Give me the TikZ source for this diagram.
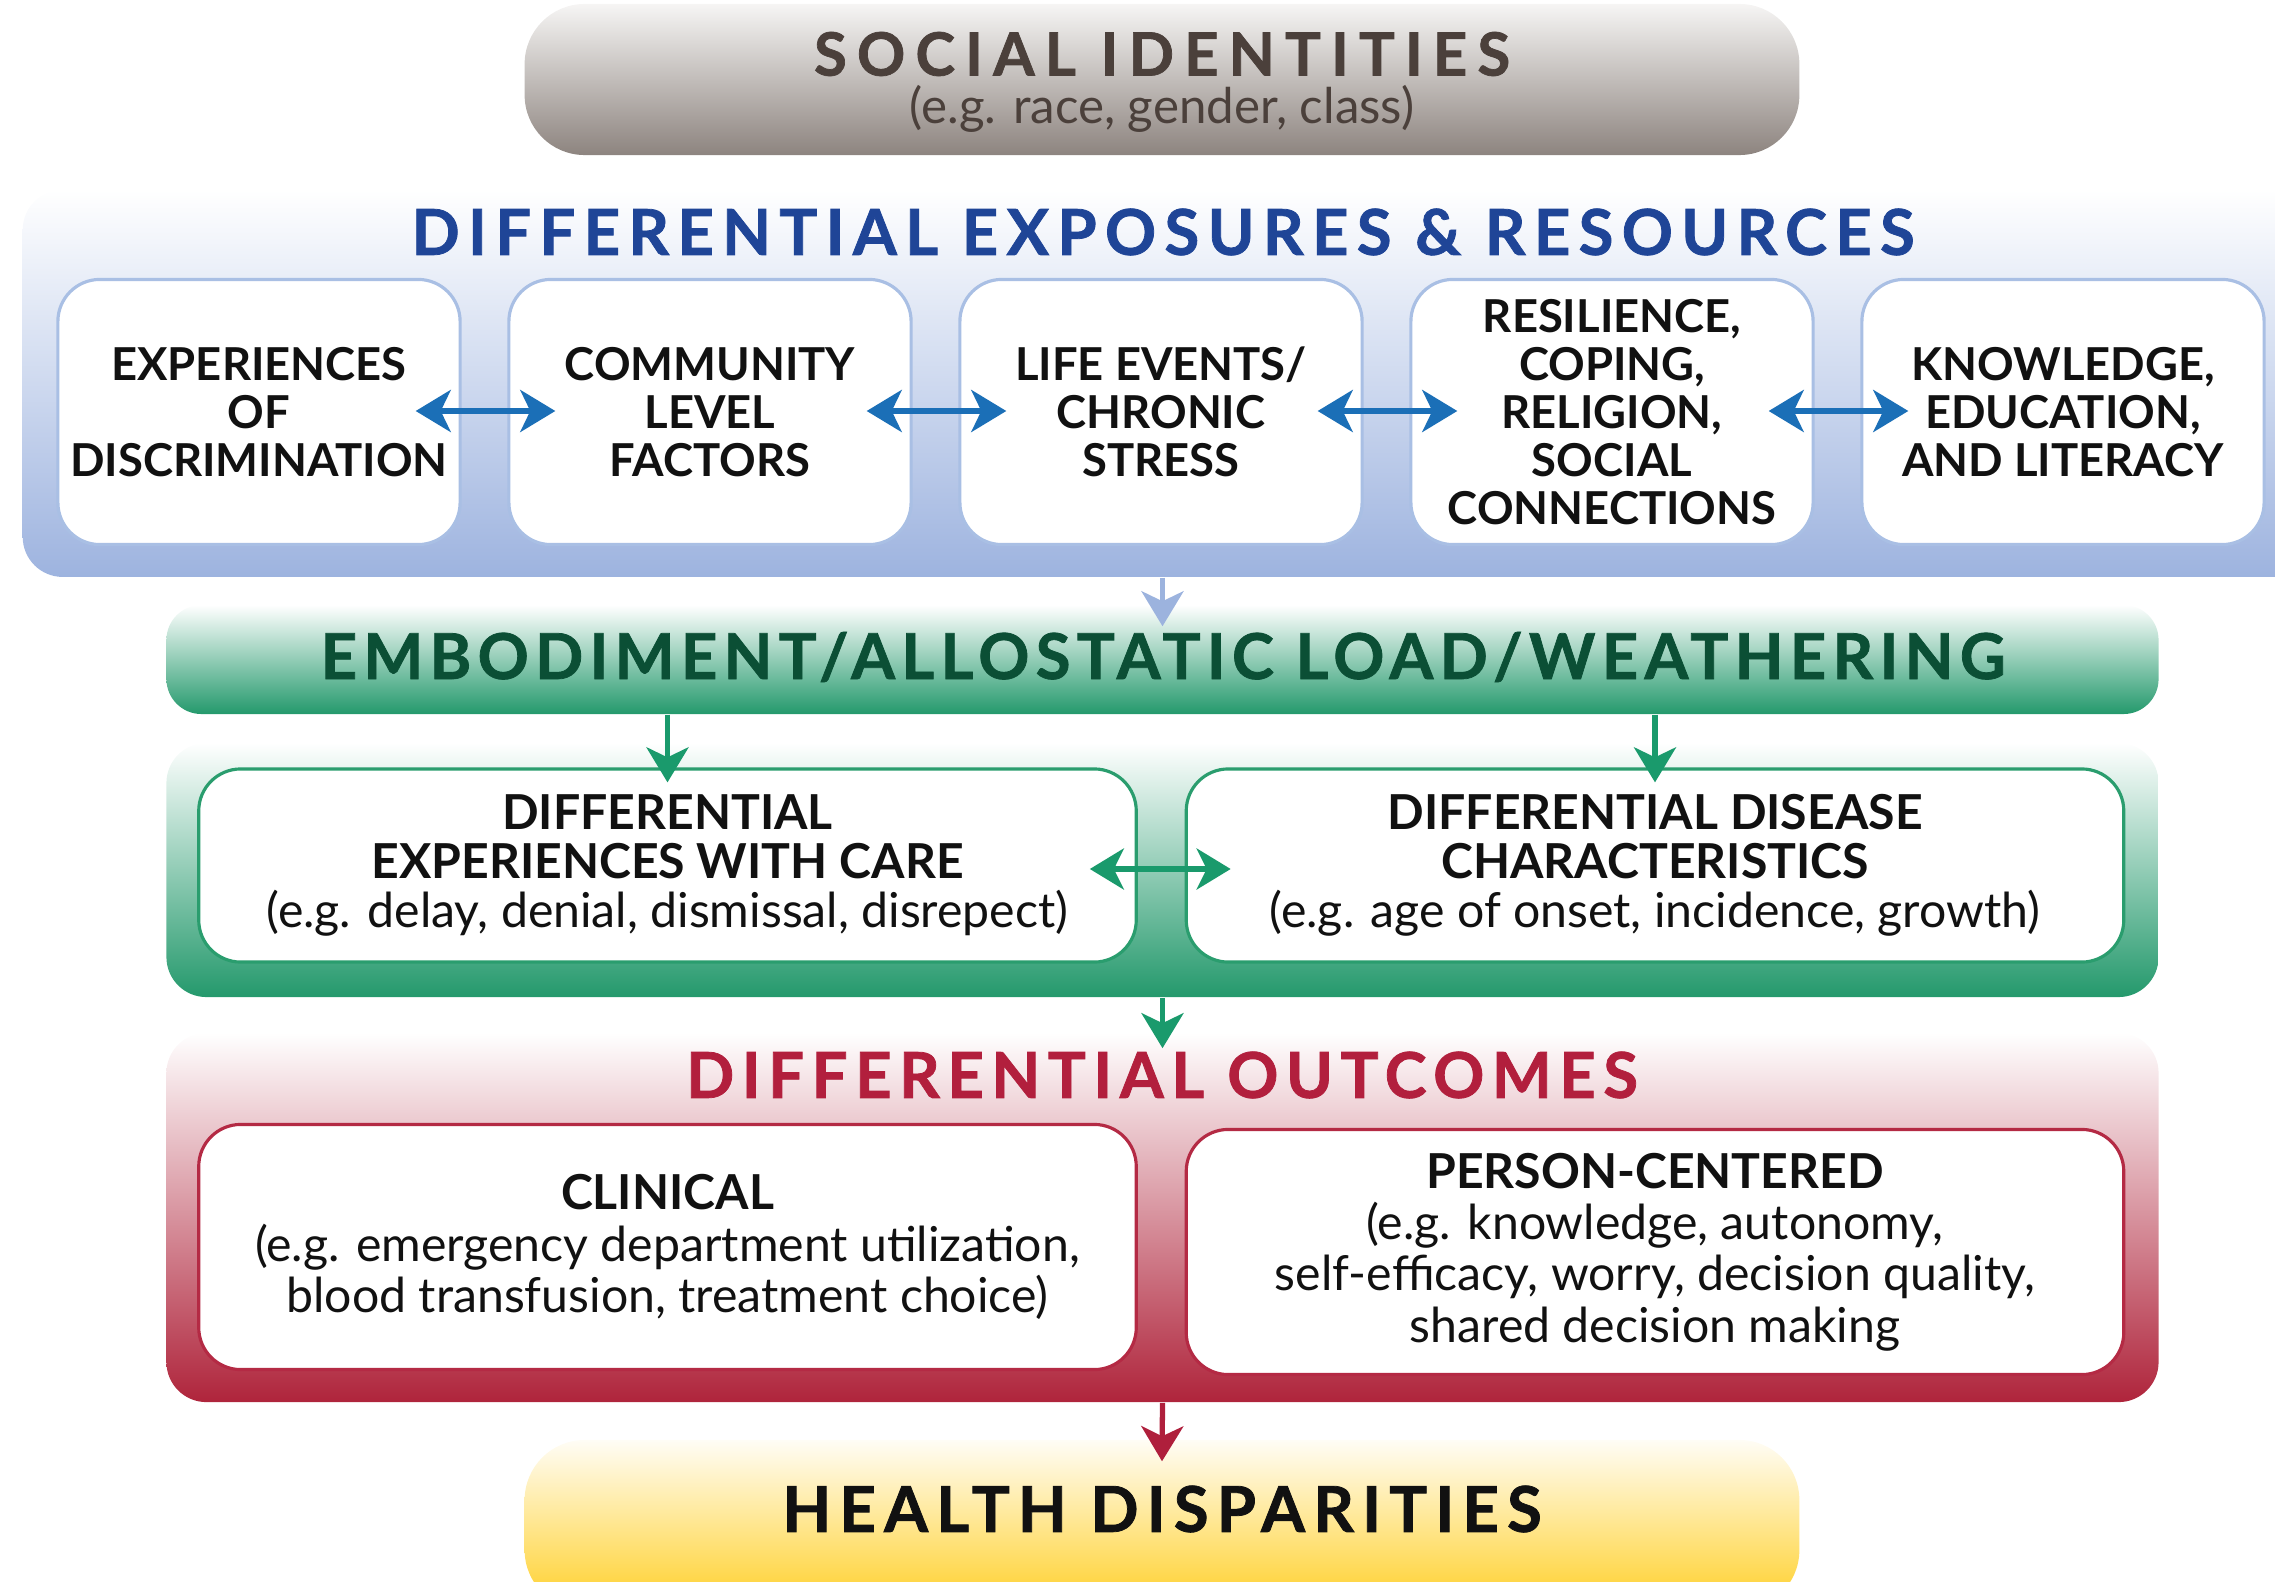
\documentclass[tikz,border=0pt]{standalone}
\usepackage{fontspec}
\setmainfont{Lato}
\usetikzlibrary{arrows.meta,calc}
\definecolor{socTop}{HTML}{F6F5F4}
\definecolor{socBot}{HTML}{8D847F}
\definecolor{socTxt}{HTML}{4B403B}
\definecolor{bpBot}{HTML}{9DB3DF}
\definecolor{bBorder}{HTML}{A9BFE4}
\definecolor{ttlBlue}{HTML}{1F4597}
\definecolor{arrBlue}{HTML}{1B6FB7}
\definecolor{arrLBlue}{HTML}{9CB3DE}
\definecolor{gBot}{HTML}{24996C}
\definecolor{gBorder}{HTML}{2A9D6E}
\definecolor{ttlGreen}{HTML}{0B4F35}
\definecolor{arrGreen}{HTML}{1A9A6C}
\definecolor{rBot}{HTML}{AF243B}
\definecolor{rBorder}{HTML}{B42A44}
\definecolor{ttlRed}{HTML}{B21F3D}
\definecolor{arrRed}{HTML}{AF1F3C}
\definecolor{yTop}{HTML}{FFFDF6}
\definecolor{yBot}{HTML}{FFCF26}
\definecolor{txt}{HTML}{111111}
\begin{document}
\begin{tikzpicture}[x=0.01cm,y=-0.01cm,
  panel/.style={draw=none, inner sep=0pt, rounded corners=0.4cm},
  wbox/.style={fill=white, line width=0.9pt, align=center, inner sep=0pt, text=txt, rounded corners=0.42cm},
  bbox/.style={wbox, draw=bBorder, minimum width=4.02cm, minimum height=2.65cm,
     font=\fontsize{12.9}{13.7}\selectfont\bfseries},
  gbox/.style={wbox, draw=gBorder, minimum width=9.37cm, minimum height=1.93cm,
     font=\fontsize{13.7}{14}\selectfont},
  rbox/.style={wbox, draw=rBorder, minimum width=9.37cm, minimum height=2.45cm,
     font=\fontsize{13.7}{14.6}\selectfont},
  ttl/.style={inner sep=0pt, font=\fontsize{18}{20}\selectfont\bfseries\addfontfeature{LetterSpace=#1,FakeBold=1.2}},
  dblb/.style={{Stealth[length=0.35cm,width=0.42cm,inset=0.1cm]}-{Stealth[length=0.35cm,width=0.42cm,inset=0.1cm]}, line width=1.5pt, draw=arrBlue},
  dblg/.style={{Stealth[length=0.34cm,width=0.41cm,inset=0.1cm]}-{Stealth[length=0.34cm,width=0.41cm,inset=0.1cm]}, line width=1.5pt, draw=arrGreen},
  vdown/.style={-{Stealth[length=0.35cm,width=0.42cm,inset=0.1cm]}, line width=1.5pt, draw=#1}
]
\useasboundingbox (0,0) rectangle (2275,1582);
\clip (0,0) rectangle (2275,1582);

% Social identities
\node[panel, rounded corners=0.6cm, top color=socTop, bottom color=socBot,
      minimum width=12.74cm, minimum height=1.51cm] (soc) at (1162,79.5) {};
\node[inner sep=0pt, text=socTxt, font=\fontsize{17}{18}\selectfont\bfseries\addfontfeature{LetterSpace=17,FakeBold=1.2}] (socT) at (1162,54) {SOCIAL IDENTITIES};
\node[inner sep=0pt, text=socTxt, font=\fontsize{14}{16}\selectfont] (socS) at (1162,109) {(e.g. race, gender, class)};

% Differential exposures panel
\node[panel, anchor=north west, top color=white, bottom color=bpBot,
      minimum width=23cm, minimum height=3.87cm] (bp) at (22,189) {};
\node[ttl=13.2, text=ttlBlue] (bpT) at (1163,232) {DIFFERENTIAL EXPOSURES \& RESOURCES};

\node[bbox] (b1) at (259,412) {EXPERIENCES\\OF\\DISCRIMINATION};
\node[bbox] (b2) at (710,412) {COMMUNITY\\LEVEL\\FACTORS};
\node[bbox] (b3) at (1161,412) {LIFE EVENTS/\\CHRONIC\\STRESS};
\node[bbox] (b4) at (1612,412) {RESILIENCE,\\COPING,\\RELIGION,\\SOCIAL\\CONNECTIONS};
\node[bbox] (b5) at (2063,412) {KNOWLEDGE,\\EDUCATION,\\AND LITERACY};

\draw[dblb] ($(b1.east)+(-46,-1)$) -- ($(b2.west)+(48,-1)$);
\draw[dblb] ($(b2.east)+(-46,-1)$) -- ($(b3.west)+(48,-1)$);
\draw[dblb] ($(b3.east)+(-46,-1)$) -- ($(b4.west)+(48,-1)$);
\draw[dblb] ($(b4.east)+(-46,-1)$) -- ($(b5.west)+(48,-1)$);

% Embodiment bar
\node[panel, rounded corners=0.35cm, top color=white, bottom color=gBot,
      minimum width=19.91cm, minimum height=1.09cm] (gbar) at (1162.5,659.5) {};
\node[ttl=10, text=ttlGreen] (gbarT) at (1163,657) {EMBODIMENT/ALLOSTATIC LOAD/WEATHERING};
\draw[vdown=arrLBlue] (bp.south -| gbar.north) -- ($(gbar.north)+(0,22)$);

% Green panel
\node[panel, top color=white, bottom color=gBot,
      minimum width=19.91cm, minimum height=2.54cm] (gp) at (1162.5,870) {};
\node[gbox] (gl) at (667.5,865.5) {\textbf{DIFFERENTIAL}\\\textbf{EXPERIENCES WITH CARE}\\(e.g. delay, denial, dismissal, disrepect)};
\node[gbox] (gr) at (1655,865.5) {\textbf{DIFFERENTIAL DISEASE}\\\textbf{CHARACTERISTICS}\\(e.g. age of onset, incidence, growth)};
\draw[vdown=arrGreen] (gbar.south -| gl.north) -- ($(gl.north)+(0,15)$);
\draw[vdown=arrGreen] (gbar.south -| gr.north) -- ($(gr.north)+(0,15)$);
\draw[dblg] ($(gl.east)+(-48,3.5)$) -- ($(gr.west)+(46,3.5)$);

% Outcomes panel
\node[panel, top color=white, bottom color=rBot,
      minimum width=19.91cm, minimum height=3.69cm] (rp) at (1162.5,1217.5) {};
\node[ttl=12, text=ttlRed] (rpT) at (1162,1075) {DIFFERENTIAL OUTCOMES};
\draw[vdown=arrGreen] (gp.south) -- ($(rp.north)+(0,16)$);
\node[rbox] (rl) at (667.5,1247) {\textbf{CLINICAL}\\(e.g. emergency department utilization,\\blood transfusion, treatment choice)};
\node[rbox] (rr) at (1655,1252) {\textbf{PERSON-CENTERED}\\(e.g. knowledge, autonomy,\\self-efficacy, worry, decision quality,\\shared decision making};

% Health disparities
\node[panel, rounded corners=0.6cm, top color=yTop, bottom color=yBot,
      minimum width=12.74cm, minimum height=1.7cm] (hd) at (1162,1525) {};
\node[ttl=13, text=txt] (hdT) at (1162,1509) {HEALTH DISPARITIES};
\draw[vdown=arrRed] (rp.south) -- ($(hd.north)+(0,22)$);
\end{tikzpicture}
\end{document}
